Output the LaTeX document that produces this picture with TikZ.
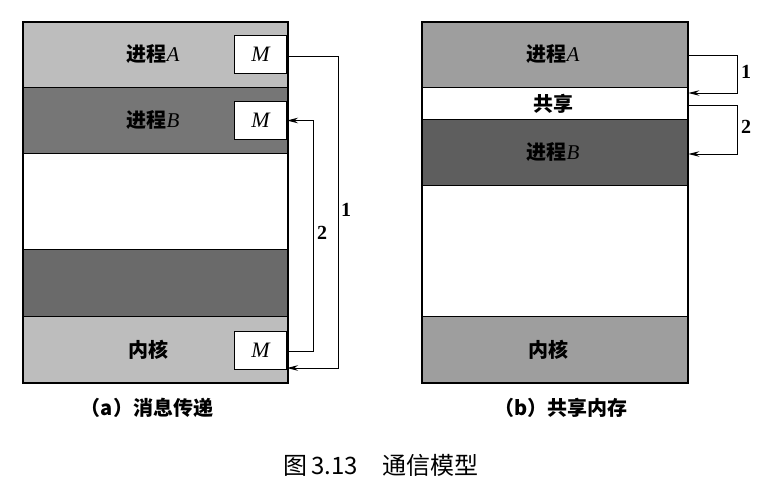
\documentclass[tikz,border=0pt]{standalone}
\usepackage{fontspec}
\setmainfont{Liberation Serif}
\newfontfamily\cjk{Noto Sans CJK SC}
\usetikzlibrary{arrows.meta}
\definecolor{lightA}{HTML}{BDBDBD}
\definecolor{darkB}{HTML}{767676}
\definecolor{darkC}{HTML}{6A6A6A}
\definecolor{midA}{HTML}{9E9E9E}
\definecolor{darkR}{HTML}{5E5E5E}
\begin{document}
\begin{tikzpicture}[x=1pt,y=-1pt,
  band/.style={draw=black,line width=1.3pt,rectangle,inner sep=0pt,anchor=north west},
  mbox/.style={draw=black,line width=1pt,fill=white,rectangle,inner sep=0pt,minimum width=52pt,minimum height=38pt,font=\fontsize{22}{22}\selectfont\itshape},
  lbl/.style={font=\fontsize{20}{20}\selectfont\cjk\bfseries},
  captxt/.style={font=\fontsize{20}{20}\selectfont\cjk\bfseries},
  num/.style={font=\fontsize{20}{20}\selectfont\bfseries},
  conn/.style={line width=1pt,-{Stealth[length=11pt,width=5.5pt]}},
  outerframe/.style={draw=black,line width=1.8pt}]
\useasboundingbox (0,0) rectangle (765,490);
% ---------- (a) ----------
\node[band,fill=lightA,minimum width=264pt,minimum height=65pt] (aA) at (23,22) {};
\node[band,fill=darkB,minimum width=264pt,minimum height=66pt] (aB) at (23,87) {};
\node[band,fill=white,minimum width=264pt,minimum height=96pt] (aW) at (23,153) {};
\node[band,fill=darkC,minimum width=264pt,minimum height=67pt] (aD) at (23,249) {};
\node[band,fill=lightA,minimum width=264pt,minimum height=66pt] (aK) at (23,316) {};
\draw[outerframe] (aA.north west) rectangle (aK.south east);
\node[lbl] (tA) at (153,54) {进程{\normalfont\fontsize{21}{21}\selectfont\itshape A}};
\node[lbl] (tB) at (153,120) {进程{\normalfont\fontsize{21}{21}\selectfont\itshape B}};
\node[lbl] (tK) at (148,350) {内核};
\node[mbox,anchor=north east] (mA) at (287,35) {M};
\node[mbox,anchor=north east] (mB) at (287,101) {M};
\node[mbox,anchor=north east] (mK) at (287,331) {M};
\coordinate (k1) at (287,368);
\coordinate (c1) at (338,56);
\coordinate (c2) at (313,351);
\draw[conn] (mA.east |- c1) -- (c1) |- (k1);
\draw[conn] (mK.east |- c2) -- (c2) |- (mB.east);
\node[num] (n1) at (346,210) {1};
\node[num] (n2) at (322,233) {2};
\node[captxt] (capa) at (147,408) {（a）消息传递};
% ---------- (b) ----------
\node[band,fill=midA,minimum width=265pt,minimum height=65pt] (bA) at (422,22) {};
\node[band,fill=white,minimum width=265pt,minimum height=32pt] (bS) at (422,87) {};
\node[band,fill=darkR,minimum width=265pt,minimum height=66pt] (bB) at (422,119) {};
\node[band,fill=white,minimum width=265pt,minimum height=131pt] (bW) at (422,185) {};
\node[band,fill=midA,minimum width=265pt,minimum height=66pt] (bK) at (422,316) {};
\draw[outerframe] (bA.north west) rectangle (bK.south east);
\node[lbl] (uA) at (553,54) {进程{\normalfont\fontsize{21}{21}\selectfont\itshape A}};
\node[lbl] (uS) at (553,104) {共享};
\node[lbl] (uB) at (553,152) {进程{\normalfont\fontsize{21}{21}\selectfont\itshape B}};
\node[lbl] (uK) at (548,350) {内核};
\coordinate (r1a) at (737,55);
\coordinate (r1b) at (737,93);
\coordinate (r2a) at (737,105);
\coordinate (r2b) at (737,154);
\draw[conn] (bA.east |- r1a) -- (r1a) -- (r1b) -- (bS.east |- r1b);
\draw[conn] (bS.east |- r2a) -- (r2a) -- (r2b) -- (bB.east |- r2b);
\node[num] (m1) at (746,72) {1};
\node[num] (m2) at (746,127) {2};
\node[captxt] (capb) at (561,408) {（b）共享内存};
% ---------- caption ----------
\node[font=\fontsize{24}{24}\selectfont\cjk] (fig) at (381,465) {图\,3.13\quad 通信模型};
\end{tikzpicture}
\end{document}
